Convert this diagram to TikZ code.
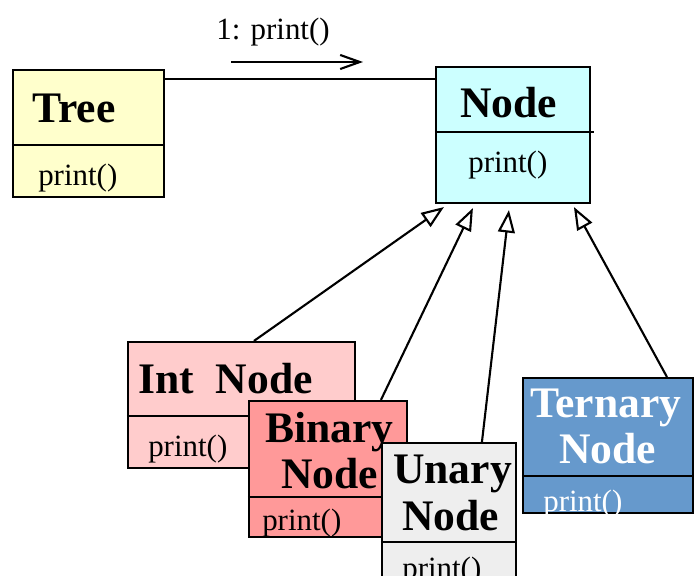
\documentclass[tikz,border=0pt]{standalone}
\usepackage{fontspec}
\setmainfont{Liberation Serif}
\usetikzlibrary{arrows.meta, calc, fit}
\definecolor{treeyellow}{HTML}{FFFFCC}
\definecolor{nodecyan}{HTML}{CCFFFF}
\definecolor{intpink}{HTML}{FFCCCC}
\definecolor{binaryred}{HTML}{FF9999}
\definecolor{unarygray}{HTML}{EEEEEE}
\definecolor{ternaryblue}{HTML}{6699CC}
\begin{document}
\begin{tikzpicture}[x=0.025cm, y=0.025cm,
    classbox/.style={draw, line width=1.5pt, inner sep=0pt},
    classline/.style={line width=1.5pt},
    classtitle/.style={anchor=base west, inner sep=0pt, font=\fontsize{31}{31}\selectfont\bfseries},
    classop/.style={anchor=base west, inner sep=0pt, font=\fontsize{22}{22}\selectfont},
    gen/.style={line width=1.5pt, -{Triangle[open, length=16pt, width=12pt]}},
    ]
    \useasboundingbox (0, 0) rectangle (700, 575);
    % Tree and Node
    \node[classbox, fill=treeyellow, fit={(13, 378) (164, 505)}] (tree) {};
    \draw[classline] (tree.west |- 0, 430) -- (tree.east |- 0, 430);
    \node[classtitle] (tree-title) at (32, 452) {Tree};
    \node[classop] (tree-op) at (38, 390) {print()};
    \node[classbox, fill=nodecyan, fit={(436, 372) (590, 508)}] (node) {};
    \draw[classline] (node.west |- 0, 443) -- ($(node.east |- 0, 443) + (3, 0)$);
    \node[classtitle] (node-title) at (460, 457) {Node};
    \node[classop] (node-op) at (468, 402) {print()};
    \coordinate (call) at (164, 496);
    \draw[line width=1.5pt] (call) -- (call -| node.west);
    \node[classop] (msg) at (216, 535) {1: print()};
    \coordinate (msg-start) at (231, 513);
    \coordinate (msg-end) at (363, 513);
    \draw[line width=1.5pt, -{Straight Barb[length=14pt, width=10pt]}] (msg-start) -- (msg-end);
    % subclasses
    \node[classbox, fill=intpink, fit={(128, 107) (355, 233)}] (int) {};
    \draw[classline] (int.west |- 0, 159) -- (int.east |- 0, 159);
    \node[classtitle] (int-title) at (138, 182) {Int\ \ Node};
    \node[classop] (int-op) at (148, 119) {print()};
    \node[classbox, fill=binaryred, fit={(249, 38) (407, 174)}] (binary) {};
    \draw[classline] (binary.west |- 0, 78) -- (binary.east |- 0, 78);
    \node[classtitle] (binary-title) at (265, 133) {Binary};
    \node[classtitle] (binary-title2) at (281, 87) {Node};
    \node[classop] (binary-op) at (262, 45) {print()};
    \node[classbox, fill=unarygray, fit={(382, -60) (516, 132)}] (unary) {};
    \draw[classline] (unary.west |- 0, 33) -- (unary.east |- 0, 33);
    \node[classtitle] (unary-title) at (393, 92) {Unary};
    \node[classtitle] (unary-title2) at (402, 45) {Node};
    \node[classop] (unary-op) at (402, -3) {print()};
    \node[classbox, fill=ternaryblue, fit={(523, 62) (693, 197)}] (ternary) {};
    \draw[classline] (ternary.west |- 0, 99) -- (ternary.east |- 0, 99);
    \node[classtitle, white] (ternary-title) at (530, 158) {Ternary};
    \node[classtitle, white] (ternary-title2) at (559, 112) {Node};
    \node[classop, white] (ternary-op) at (543, 64) {print()};
    % generalizations
    \draw[gen] ($(int.north west) + (127, 0)$) -- ($(node.south west) + (9, -3)$);
    \draw[gen] ($(binary.north west) + (133, 0)$) -- ($(node.south west) + (38, -4)$);
    \draw[gen] ($(unary.north west) + (101, 0)$) -- ($(node.south west) + (74, -6)$);
    \draw[gen] ($(ternary.north west) + (145, 0)$) -- ($(node.south west) + (139, -3)$);
\end{tikzpicture}
\end{document}
